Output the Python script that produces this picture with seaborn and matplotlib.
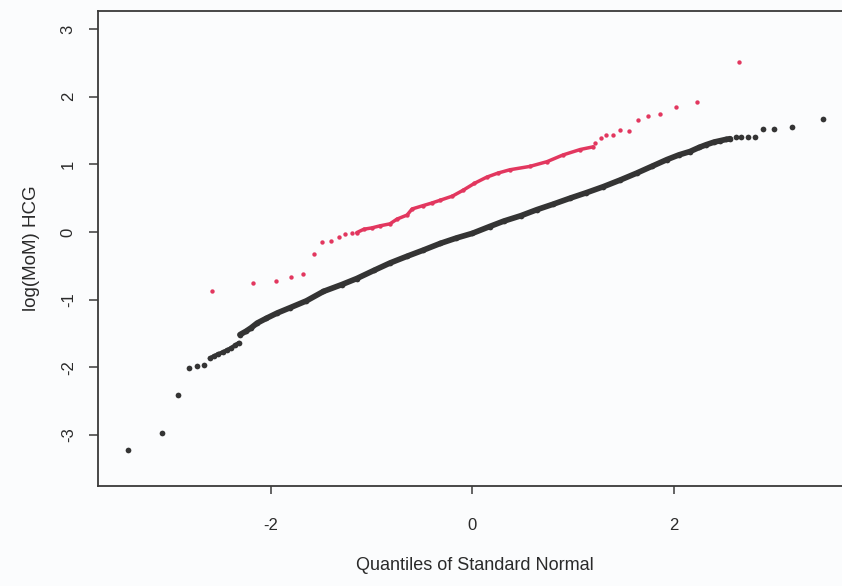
import matplotlib
matplotlib.use("Agg")
import matplotlib.pyplot as plt
import seaborn as sns
import pandas as pd

# ---- data (theoretical quantile, log(MoM) HCG) ----
black_tail_left_x = [-3.42, -3.08, -2.93, -2.82, -2.74, -2.67]
black_tail_left_y = [-3.22, -2.98, -2.42, -2.01, -1.99, -1.97]

black_chain_a_x = [-2.61, -2.57, -2.53, -2.48, -2.44, -2.40, -2.36, -2.32]
black_chain_a_y = [-1.87, -1.84, -1.81, -1.78, -1.75, -1.72, -1.68, -1.64]

black_chain_b_x = [-2.31, -2.25, -2.20, -2.14, -2.05, -1.94, -1.81, -1.65, -1.48, -1.30,
                   -1.15, -0.98, -0.82, -0.65, -0.49, -0.32, -0.16, 0.00, 0.17, 0.31,
                   0.48, 0.64, 0.80, 0.97, 1.13, 1.30, 1.47, 1.63, 1.78, 1.93,
                   2.05, 2.16, 2.25, 2.32, 2.40, 2.46, 2.52, 2.56]
black_chain_b_y = [-1.52, -1.47, -1.42, -1.35, -1.28, -1.20, -1.12, -1.02, -0.88, -0.78,
                   -0.69, -0.57, -0.46, -0.36, -0.27, -0.17, -0.09, -0.02, 0.08, 0.16,
                   0.24, 0.33, 0.41, 0.50, 0.58, 0.67, 0.77, 0.87, 0.97, 1.07,
                   1.14, 1.19, 1.25, 1.29, 1.33, 1.35, 1.37, 1.38]

black_tail_right_x = [2.62, 2.67, 2.74, 2.81, 2.89, 3.00, 3.17, 3.48]
black_tail_right_y = [1.41, 1.41, 1.41, 1.40, 1.52, 1.53, 1.55, 1.67]

red_tail_left_x = [-2.59, -2.18, -1.95, -1.80, -1.68, -1.57, -1.49, -1.41, -1.33, -1.27, -1.20]
red_tail_left_y = [-0.87, -0.76, -0.73, -0.67, -0.62, -0.33, -0.15, -0.14, -0.07, -0.03, -0.02]

red_chain_x = [-1.15, -1.08, -1.00, -0.92, -0.82, -0.75, -0.65, -0.60, -0.49, -0.40,
               -0.32, -0.20, -0.09, 0.02, 0.14, 0.25, 0.37, 0.57, 0.74, 0.90,
               1.07, 1.20]
red_chain_y = [-0.01, 0.04, 0.06, 0.09, 0.12, 0.19, 0.25, 0.34, 0.39, 0.43,
               0.47, 0.53, 0.62, 0.72, 0.81, 0.87, 0.92, 0.97, 1.04, 1.14,
               1.22, 1.26]

red_tail_right_x = [1.22, 1.28, 1.33, 1.40, 1.47, 1.55, 1.64, 1.74, 1.86, 2.02, 2.23, 2.65]
red_tail_right_y = [1.32, 1.39, 1.44, 1.43, 1.51, 1.50, 1.65, 1.72, 1.75, 1.85, 1.92, 2.51]

x_ticks = [-2, 0, 2]
y_ticks = [-3, -2, -1, 0, 1, 2, 3]
x_label = "Quantiles of Standard Normal"
y_label = "log(MoM) HCG"

BLACK = "#343434"
RED = "#e2375f"
TEXT = "#2a2a2a"

sns.set_theme(style="white")
plt.rcParams["font.family"] = ["Liberation Sans", "DejaVu Sans"]

fig = plt.figure(figsize=(8.42, 5.86), dpi=100)
fig.patch.set_facecolor("#fbfcfd")
ax = fig.add_axes([98 / 842, 100 / 586, 753 / 842, 475 / 586])
ax.set_facecolor("#fbfcfd")

black_pts = pd.DataFrame({
    "x": black_tail_left_x + black_chain_a_x + black_chain_b_x + black_tail_right_x,
    "y": black_tail_left_y + black_chain_a_y + black_chain_b_y + black_tail_right_y,
})
red_pts = pd.DataFrame({
    "x": red_tail_left_x + red_chain_x + red_tail_right_x,
    "y": red_tail_left_y + red_chain_y + red_tail_right_y,
})

# dense overlapping runs of points rendered as thick chains
sns.lineplot(x=black_chain_a_x, y=black_chain_a_y, sort=False, estimator=None,
             color=BLACK, lw=3.0, ax=ax, solid_capstyle="round", solid_joinstyle="round")
sns.lineplot(x=black_chain_b_x, y=black_chain_b_y, sort=False, estimator=None,
             color=BLACK, lw=4.1, ax=ax, solid_capstyle="round", solid_joinstyle="round")
sns.lineplot(x=red_chain_x, y=red_chain_y, sort=False, estimator=None,
             color=RED, lw=2.5, ax=ax, solid_capstyle="round", solid_joinstyle="round")

sns.scatterplot(data=black_pts, x="x", y="y", color=BLACK, s=17, linewidth=0, ax=ax)
sns.scatterplot(data=red_pts, x="x", y="y", color=RED, s=10, linewidth=0, ax=ax)

ax.set_xlim(-3.72, 3.76)
ax.set_ylim(-3.76, 3.27)
ax.set_xticks(x_ticks)
ax.set_yticks(y_ticks)
ax.set_xticklabels([str(t) for t in x_ticks])
ax.set_yticklabels([str(t) for t in y_ticks], rotation=90, va="center")

for side in ["left", "top", "bottom", "right"]:
    ax.spines[side].set_color("#3a3a3a")
    ax.spines[side].set_linewidth(1.3)

ax.tick_params(axis="x", direction="out", length=6, width=1.1, color="#3a3a3a",
               pad=17, labelsize=12, labelcolor=TEXT, bottom=True)
ax.tick_params(axis="y", direction="out", length=6.5, width=1.1, color="#3a3a3a",
               pad=9.5, labelsize=12, labelcolor=TEXT, left=True)

ax.set_xlabel(x_label, fontsize=13, color=TEXT, labelpad=17)
ax.set_ylabel(y_label, fontsize=13.5, color=TEXT, labelpad=15)

fig.savefig("out.png", dpi=100, facecolor=fig.get_facecolor())
